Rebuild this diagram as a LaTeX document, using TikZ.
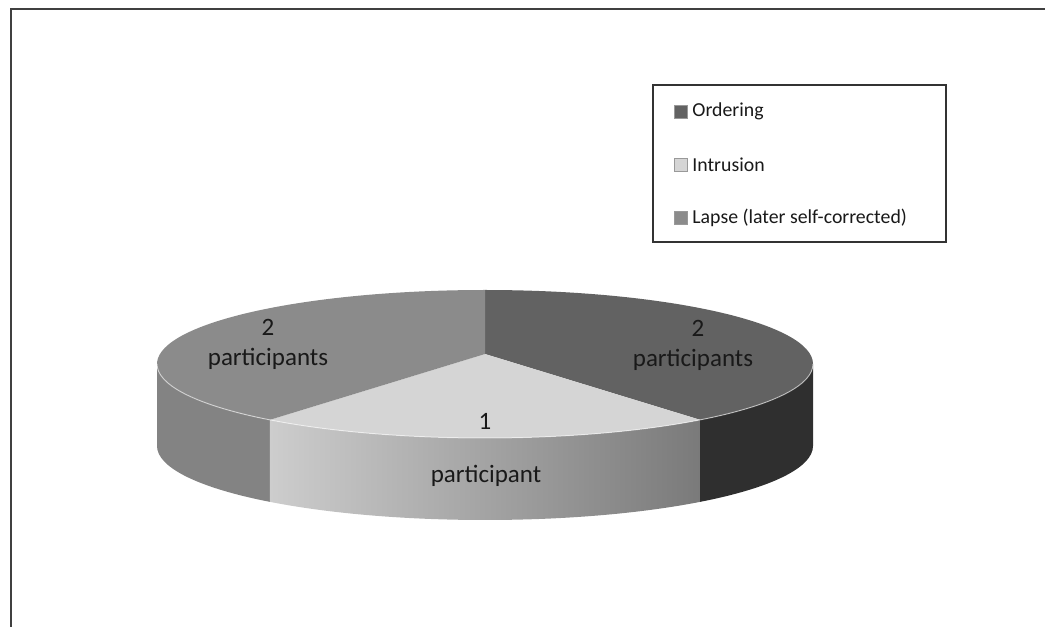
\documentclass[tikz,border=0pt]{standalone}
\usepackage{fontspec}
\setmainfont{Carlito}
\usepackage{xcolor}
\usepackage{tikz}
\usetikzlibrary{calc,positioning}
\definecolor{orderingtop}{HTML}{626262}
\definecolor{orderingside}{HTML}{2F2F2F}
\definecolor{intrusiontop}{HTML}{D5D5D5}
\definecolor{intrusionleft}{HTML}{CDCDCD}
\definecolor{intrusionright}{HTML}{7A7A7A}
\definecolor{lapsetop}{HTML}{8B8B8B}
\definecolor{lapseside}{HTML}{838383}
\tikzset{
  chartframe/.style={draw=black!75, line width=2pt},
  chartlabel/.style={inner sep=0pt, text=black!90,
    font=\fontsize{25}{30}\selectfont},
  chartkeybox/.style={draw=black!80, line width=1.2pt, fill=white,
    minimum width=293pt, minimum height=157pt, inner sep=0pt},
  chartkeytext/.style={anchor=west, inner sep=0pt, text=black!90,
    font=\fontsize{19.8}{24}\selectfont},
  chartswatch/.style={draw=black!40, line width=0.4pt,
    minimum size=13pt, inner sep=0pt},
  piearc/.style={x radius=328, y radius=74},
  rimlight/.style={draw=white, draw opacity=0.55, line width=1pt}
}

\begin{document}
\begin{tikzpicture}[x=1pt,y=1pt]
  \useasboundingbox (0,0) rectangle (1045,627);
  \draw[chartframe] (10.5,0) -- (10.5,617.5) -- (1050,617.5);

  % centre of the rim ellipse and apex of the slices
  \coordinate (rim) at (485,263);
  \coordinate (apex) at (485,273);

  % side walls
  \fill[lapseside] ($(rim)+(180:328 and 74)$)
    arc[start angle=180, end angle=229, piearc] -- ++(0,-82)
    arc[start angle=229, end angle=180, piearc] -- cycle;
  \shade[left color=intrusionleft, right color=intrusionright]
    ($(rim)+(229:328 and 74)$)
    arc[start angle=229, end angle=311, piearc] -- ++(0,-82)
    arc[start angle=311, end angle=229, piearc] -- cycle;
  \fill[orderingside] ($(rim)+(311:328 and 74)$)
    arc[start angle=311, end angle=360, piearc] -- ++(0,-82)
    arc[start angle=360, end angle=311, piearc] -- cycle;

  % top faces
  \fill[orderingtop] (apex) -- ($(rim)+(90:328 and 74)$)
    arc[start angle=90, end angle=-49, piearc] -- cycle;
  \fill[intrusiontop] (apex) -- ($(rim)+(-49:328 and 74)$)
    arc[start angle=-49, end angle=-131, piearc] -- cycle;
  \fill[lapsetop] (apex) -- ($(rim)+(229:328 and 74)$)
    arc[start angle=229, end angle=90, piearc] -- cycle;
  \draw[rimlight] ($(rim)+(180:328 and 74)$)
    arc[start angle=180, end angle=360, piearc];

  % slice labels
  \node[chartlabel] (lapsecount) at (268,300) {2};
  \node[chartlabel] (lapseword) at (268,268) {participants};
  \node[chartlabel] (orderingcount) at (698,299) {2};
  \node[chartlabel] (orderingword) at (693,267) {participants};
  \node[chartlabel] (intrusioncount) at (485,206) {1};
  \node[chartlabel] (intrusionword) at (486,151) {participant};

  % legend
  \node[chartkeybox] (legend) at (799.5,463.5) {};
  \node[chartswatch, fill=orderingtop] (keyordering) at (680.5,515.5) {};
  \node[chartswatch, fill=intrusiontop] (keyintrusion) at (680.5,462) {};
  \node[chartswatch, fill=lapsetop] (keylapse) at (680.5,409) {};
  \node[chartkeytext, right=5pt of keyordering] (txtordering) {Ordering};
  \node[chartkeytext, right=5pt of keyintrusion] (txtintrusion)
    {Intrusion};
  \node[chartkeytext, right=5pt of keylapse] (txtlapse)
    {Lapse (later self-corrected)};
\end{tikzpicture}
\end{document}
